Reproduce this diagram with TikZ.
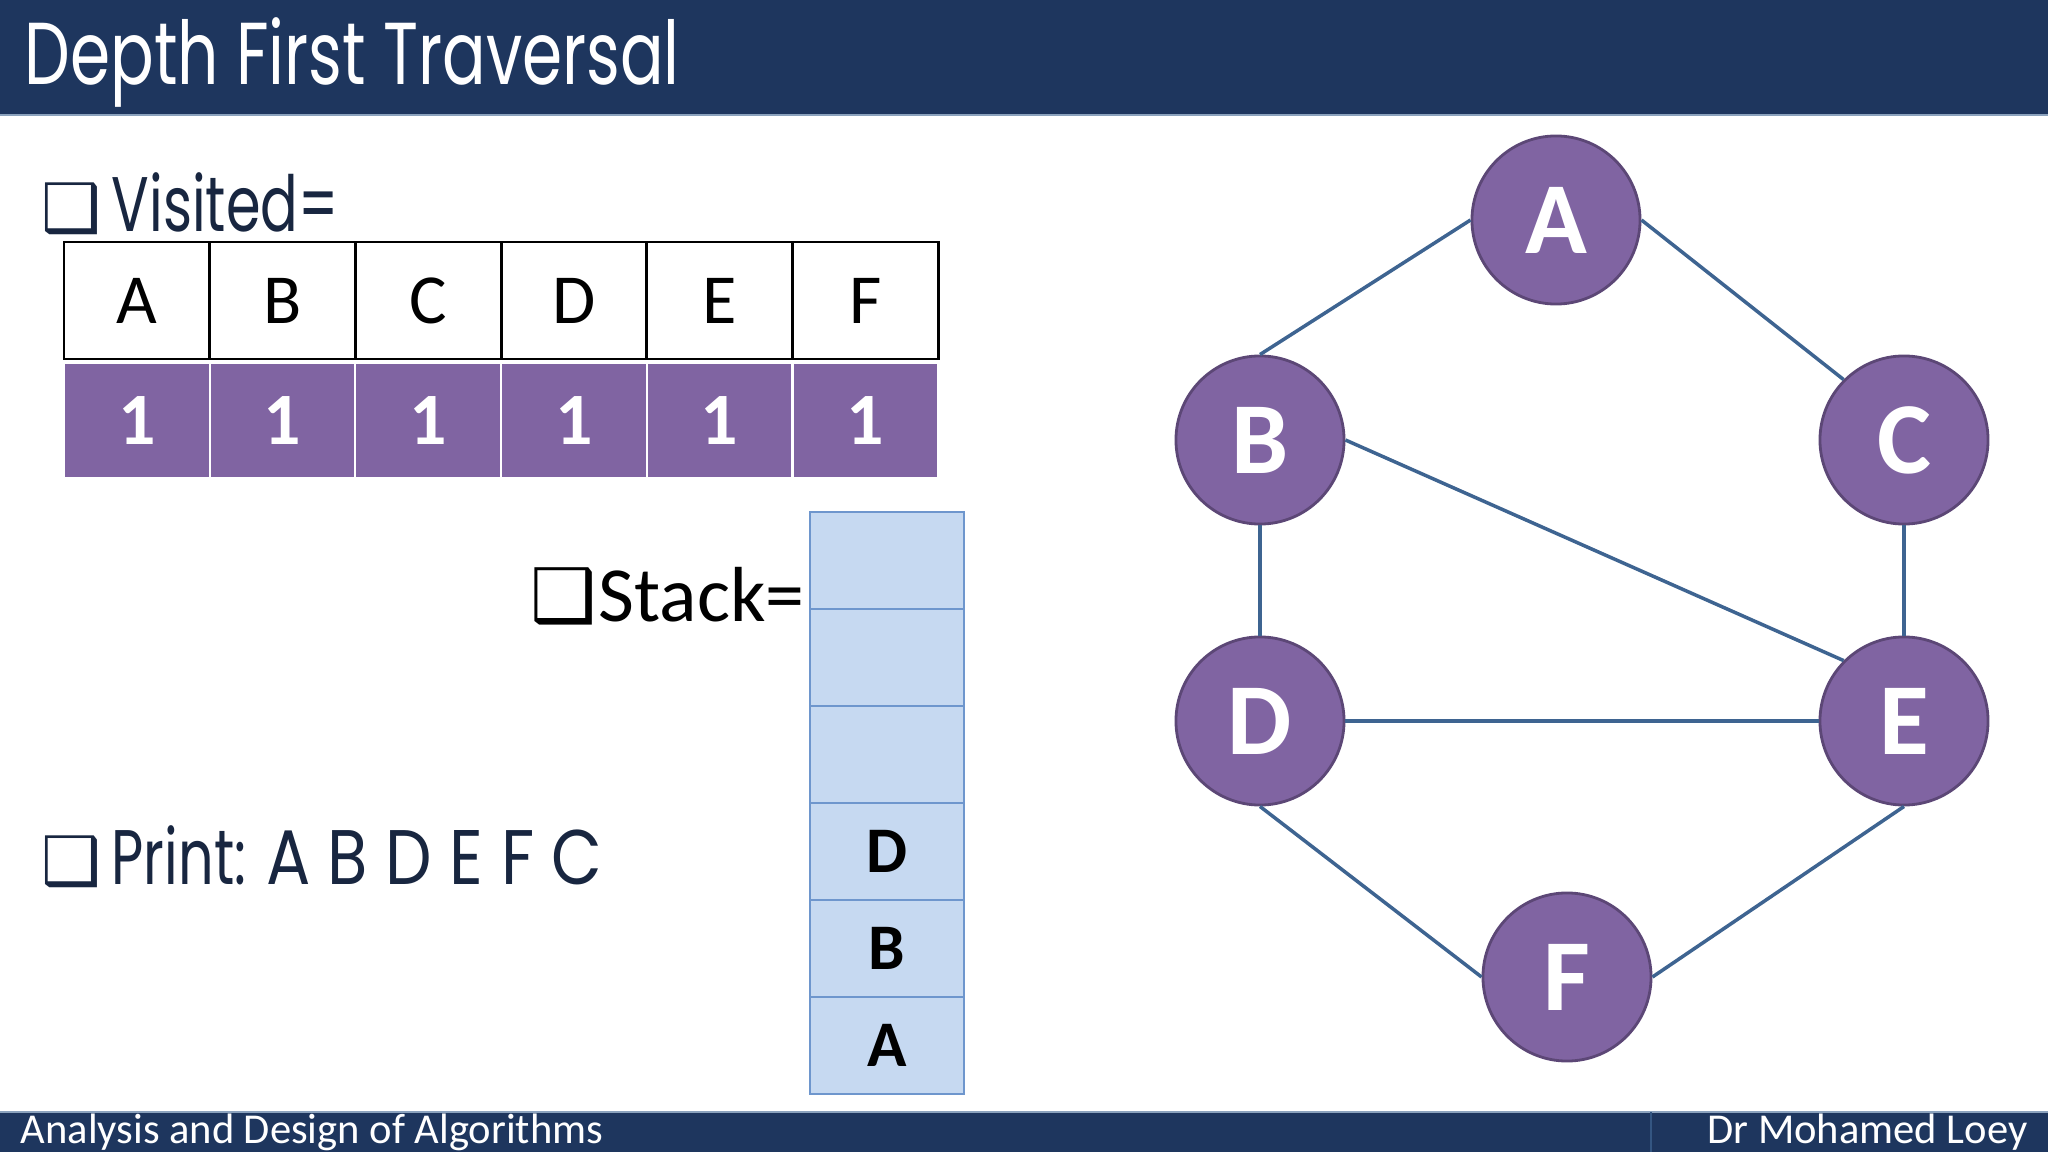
\documentclass[tikz,border=0pt]{standalone}
\usepackage{fontspec}
\setmainfont{Carlito}
\newfontfamily\gothic[FakeStretch=0.72]{Poppins}
\newfontfamily\gothicwide[FakeStretch=0.85]{Poppins}
\newfontfamily\dings{DejaVu Sans}
\usetikzlibrary{positioning}

\definecolor{navy}{RGB}{30,54,94}
\definecolor{ink}{RGB}{24,38,64}
\definecolor{violet}{RGB}{128,100,162}
\definecolor{rim}{RGB}{92,71,118}
\definecolor{wire}{RGB}{62,100,145}
\definecolor{slot}{RGB}{198,217,241}
\definecolor{slotline}{RGB}{110,150,205}
\tikzstyle{vertex}=[draw=rim, line width=0.8pt, circle, fill=violet, minimum size=1.68cm, inner sep=0pt, text=white, font=\fontsize{29}{29}\selectfont\bfseries]
\tikzstyle{link}=[draw=wire, line width=1pt]
\tikzstyle{keycell}=[draw=black, line width=0.8pt, minimum width=1.457cm, minimum height=1.17cm, inner sep=0pt, font=\fontsize{20}{20}\selectfont]
\tikzstyle{bitcell}=[draw=white, line width=0.6pt, fill=violet, minimum width=1.457cm, minimum height=1.15cm, inner sep=0pt, text=white, font=\fontsize{21}{21}\selectfont\bfseries]
\tikzstyle{slotcell}=[draw=slotline, line width=0.6pt, fill=slot, minimum width=1.54cm, minimum height=0.97cm, inner sep=0pt, font=\fontsize{18.5}{18.5}\selectfont\bfseries]
\tikzstyle{label}=[anchor=base west, inner sep=0pt]

\begin{document}
\begin{tikzpicture}[x=0.01cm, y=-0.01cm]
  \useasboundingbox (0,0) rectangle (2048,1152);

  % header and footer bands
  \fill[navy] (0,0) rectangle (2048,115);
  \draw[wire!60, line width=0.8pt] (0,115) -- (2048,115);
  \fill[navy] (0,1112) rectangle (2048,1152);
  \draw[wire!60, line width=0.6pt] (0,1112) -- (2048,1112);
  \draw[wire!70!navy, line width=0.8pt] (1651,1112) -- (1651,1152);
  \node[label, text=white, font=\gothic\fontsize{25}{25}\selectfont\addfontfeature{FakeStretch=0.735}] (title) at (24,85) {Depth First Traversal};
  \node[label, text=white, font=\fontsize{12.1}{12.1}\selectfont] (course) at (20,1143) {Analysis and Design of Algorithms};
  \node[anchor=base east, inner sep=0pt, text=white, font=\fontsize{12.1}{12.1}\selectfont] (author) at (2028,1143) {Dr Mohamed Loey};

  % visited array
  \node[label, text=ink, font=\dings\fontsize{19}{19}\selectfont] (tick1) at (41,232) {❑};
  \node[label, text=ink, font=\gothic\fontsize{22}{22}\selectfont] (visited) at (111,232) {Visited=};
  \foreach \v [count=\i] in {A,B,C,D,E,F} {
    \node[keycell] (k\v) at ({64+145.7*(\i-0.5)},300.5) {\v};
    \node[bitcell] (b\v) at ({64+145.7*(\i-0.5)},420.5) {1};
  }

  % stack
  \node[anchor=base east, inner sep=0pt, text=black, font=\dings\fontsize{21}{21}\selectfont] (tick2) at (597,622) {❑};
  \node[label, font=\fontsize{22.2}{22.2}\selectfont] (stack) at (598,622) {Stack=};
  \foreach \s [count=\i] in {{},{},{},D,B,A} {
    \node[slotcell] (s\i) at (887,{560.5+97*(\i-1)}) {\s};
  }

  % output
  \node[label, text=ink, font=\dings\fontsize{19}{19}\selectfont] (tick3) at (41,884) {❑};
  \node[label, text=ink, font=\gothic\fontsize{22}{22}\selectfont] (print) at (111,884) {Print: {\gothicwide A B D E F C}};

  % graph
  \node[vertex] (A) at (1556,220) {A};
  \node[vertex] (B) at (1260,440) {B};
  \node[vertex] (C) at (1904,440) {C};
  \node[vertex] (D) at (1260,721) {D};
  \node[vertex] (E) at (1904,721) {E};
  \node[vertex] (F) at (1567,977) {F};
  \path[link] (A.west) -- (B.north);
  \path[link] (A.east) -- (C.north west);
  \path[link] (B.east) -- (E.north west);
  \path[link] (B.south) -- (D.north);
  \path[link] (C.south) -- (E.north);
  \path[link] (D.east) -- (E.west);
  \path[link] (D.south) -- (F.west);
  \path[link] (E.south) -- (F.east);
\end{tikzpicture}
\end{document}
